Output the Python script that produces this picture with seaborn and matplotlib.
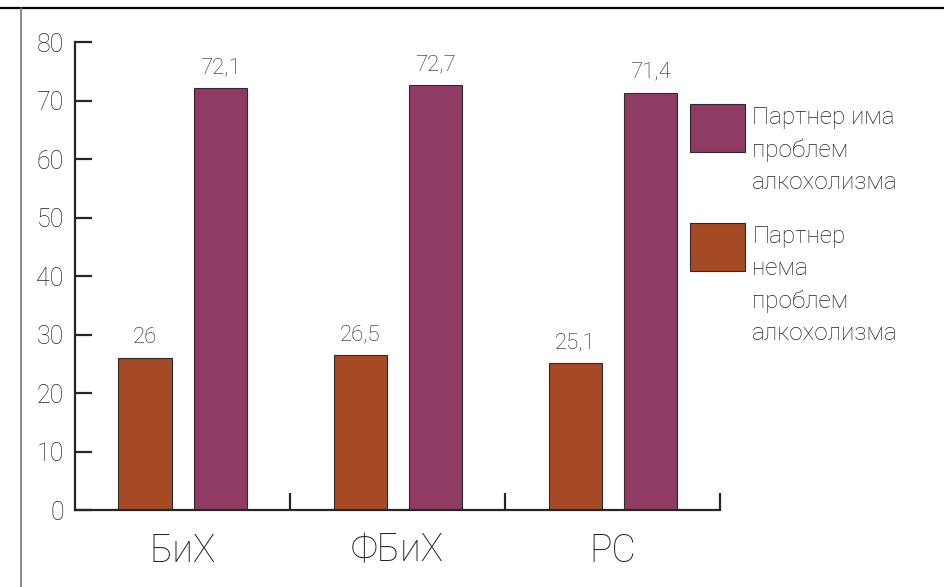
import pandas as pd
import seaborn as sns
import matplotlib.pyplot as plt
from matplotlib.patches import Rectangle
from matplotlib.lines import Line2D

sns.set_style("white")
plt.rcParams.update({
    "font.family": ["Roboto", "Open Sans", "DejaVu Sans"],
    "font.weight": "light",
    "axes.linewidth": 1.6,
    "xtick.bottom": True,
    "ytick.left": True,
})

regions = ["БиХ", "ФБиХ", "РС"]
groups = ["Партнер нема проблем алкохолизма", "Партнер има проблем алкохолизма"]
no_problem = [26, 26.5, 25.1]
has_problem = [72.1, 72.7, 71.4]
y_ticks = [0, 10, 20, 30, 40, 50, 60, 70, 80]

colors = {groups[0]: "#A64A25", groups[1]: "#8F3B63"}

df = pd.DataFrame({
    "Регион": regions * 2,
    "Група": [groups[0]] * 3 + [groups[1]] * 3,
    "Вредност": no_problem + has_problem,
})

fig = plt.figure(figsize=(9.44, 5.87), dpi=100)
ax = fig.add_axes([0.0794, 0.131, 0.6836, 0.797])

sns.barplot(data=df, x="Регион", y="Вредност", hue="Група", hue_order=groups,
            palette=colors, width=0.698, gap=0.293, edgecolor="#2b2b2b",
            linewidth=0.8, saturation=1, legend=False, ax=ax)

for cont in ax.containers:
    vals = cont.datavalues
    ax.bar_label(cont, labels=[f"{v:g}".replace(".", ",") for v in vals],
                 padding=7, fontsize=16, color="#222222")

ax.set_xlim(-0.5, 2.5)
ax.set_ylim(0, 80)
ax.set_yticks(y_ticks)
ax.set_xticks([0.5, 1.5, 2.5], minor=True)
ax.tick_params(axis="y", direction="in", length=12, width=1.6, pad=8,
               labelsize=18, labelcolor="#222222")
ax.tick_params(axis="x", which="major", length=0, pad=16, labelsize=27,
               labelcolor="#222222")
ax.tick_params(axis="x", which="minor", direction="in", length=12, width=1.6)
ax.set_xlabel("")
ax.set_ylabel("")
sns.despine(ax=ax, top=True, right=True)

# legend drawn by hand so the swatch sits at the top of each multi-line label
entries = [(groups[1], "Партнер има\nпроблем\nалкохолизма", 0.823),
           (groups[0], "Партнер\nнема\nпроблем\nалкохолизма", 0.620)]
for g, text, ytop in entries:
    fig.add_artist(Rectangle((0.731, ytop - 0.082), 0.058, 0.082,
                             transform=fig.transFigure, facecolor=colors[g],
                             edgecolor="#2b2b2b", linewidth=0.8))
    fig.text(0.797, ytop - 0.004, text, va="top", ha="left", fontsize=17.5,
             color="#222222", linespacing=1.5)

# page frame lines
fig.add_artist(Line2D([0, 1], [0.986, 0.986], transform=fig.transFigure,
                      color="black", linewidth=1.6))
fig.add_artist(Line2D([0.022, 0.022], [0, 0.986], transform=fig.transFigure,
                      color="#777777", linewidth=1.2))

fig.savefig("out.png", dpi=100)
